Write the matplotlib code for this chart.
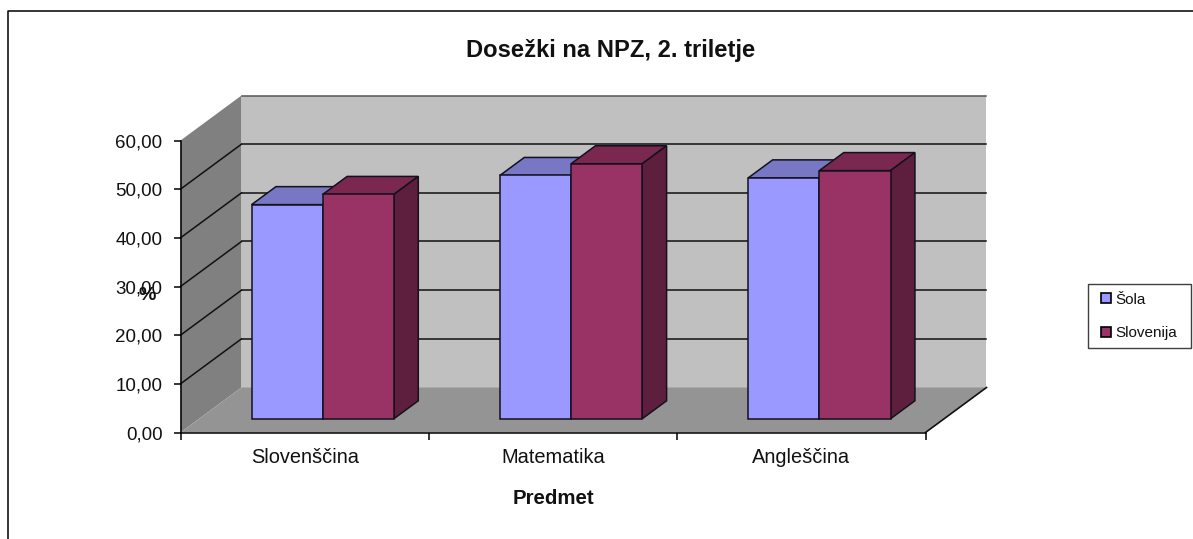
import matplotlib
matplotlib.use("Agg")
import matplotlib.pyplot as plt
from matplotlib.patches import Polygon
from matplotlib.lines import Line2D

categories = ["Slovenščina", "Matematika", "Angleščina"]
sola = [44.0, 50.0, 49.5]
slovenija = [46.1, 52.4, 51.0]
y_ticks = [0, 10, 20, 30, 40, 50, 60]
y_tick_labels = ["0,00", "10,00", "20,00", "30,00", "40,00", "50,00", "60,00"]
title = "Dosežki na NPZ, 2. triletje"
x_title = "Predmet"
y_title = "%"

W, H = 1193, 539
FONT = "Liberation Sans"
plt.rcParams["font.family"] = FONT

fig = plt.figure(figsize=(W / 100, H / 100), dpi=100, facecolor="white")
ax = fig.add_axes([180.5 / W, (H - 432.5) / H, 745 / W, 292 / H])
ax.set_xlim(0, 3)
ax.set_ylim(0, 60)
ax.patch.set_visible(False)

# oblique depth vector of the whole plot box, in data units
DX = 61 / (745 / 3)
DY = 45 / (292 / 60)
BAR_W = 0.2865
BAR_START_X = 0.296
BAR_START_Y = 0.305
BAR_DEPTH = 0.40


def poly(pts, face, edge="none", lw=0.0, z=1):
    ax.add_patch(Polygon(pts, closed=True, facecolor=face, edgecolor=edge,
                         linewidth=lw, clip_on=False, zorder=z, joinstyle="miter"))


top = y_ticks[-1]
# walls and floor
poly([(0, 0), (DX, DY), (DX, top + DY), (0, top)], "#808080", z=1)
poly([(DX, DY), (3 + DX, DY), (3 + DX, top + DY), (DX, top + DY)], "#C0C0C0", z=1)
poly([(0, 0), (3, 0), (3 + DX, DY), (DX, DY)], "#949494", z=1.5)

# gridlines
for v in y_ticks[1:]:
    col = "#111111" if v < top else "#555555"
    ax.plot([DX, 3 + DX], [v + DY, v + DY], color=col, lw=1.1, clip_on=False, zorder=2)
    if v < top:
        ax.plot([0, DX], [v, v + DY], color="#111111", lw=1.1, clip_on=False, zorder=2)
ax.plot([3, 3 + DX], [0, DY], color="#111111", lw=1.2, clip_on=False, zorder=2)


def bar(x_left, value, front, top_col, side_col, z):
    x0 = x_left + BAR_START_X * DX
    x1 = x0 + BAR_W
    y0 = BAR_START_Y * DY
    y1 = value + y0
    ox, oy = BAR_DEPTH * DX, BAR_DEPTH * DY
    edge = "#14101E"
    poly([(x0, y1), (x1, y1), (x1 + ox, y1 + oy), (x0 + ox, y1 + oy)], top_col, edge, 1.1, z)
    poly([(x1, y0), (x1 + ox, y0 + oy), (x1 + ox, y1 + oy), (x1, y1)], side_col, edge, 1.1, z)
    poly([(x0, y0), (x1, y0), (x1, y1), (x0, y1)], front, edge, 1.1, z + 0.1)


for i in range(len(categories)):
    c = i + 0.5
    bar(c - BAR_W, sola[i], "#9999FF", "#7777C4", "#5A5A96", 3 + i)
    bar(c, slovenija[i], "#993366", "#7A2850", "#5E1F3E", 3.4 + i)

# axes
for s in ("top", "right"):
    ax.spines[s].set_visible(False)
for s in ("left", "bottom"):
    ax.spines[s].set_linewidth(1.1)
    ax.spines[s].set_color("black")
    ax.spines[s].set_zorder(2.5)
ax.set_yticks(y_ticks)
ax.set_yticklabels(y_tick_labels, fontsize=13.5, color="#111111")
ax.set_xticks(range(len(categories) + 1))
ax.set_xticklabels([])
ax.set_xticks([i + 0.5 for i in range(len(categories))], minor=True)
ax.set_xticklabels(categories, minor=True, fontsize=14.4, color="#111111")
ax.tick_params(axis="y", length=5, width=1.1, pad=8)
ax.tick_params(axis="x", which="major", length=5, width=1.1)
ax.tick_params(axis="x", which="minor", length=0, pad=11)

# titles
fig.text(611 / W, 1 - 50.5 / H, title, ha="center", va="center", fontsize=17.1, fontweight="bold", color="#111111")
fig.text(553 / W, 1 - 498.5 / H, x_title, ha="center", va="center", fontsize=14.7, fontweight="bold", color="#111111")
fig.text(147 / W, 1 - 295 / H, y_title, ha="center", va="center", fontsize=14, fontweight="bold", color="#111111")

# legend
handles = [Line2D([], [], linestyle="none", marker="s", markersize=6.5, markerfacecolor="#9999FF",
                  markeredgecolor="black", markeredgewidth=1.2, label="Šola"),
           Line2D([], [], linestyle="none", marker="s", markersize=6.5, markerfacecolor="#993366",
                  markeredgecolor="black", markeredgewidth=1.2, label="Slovenija")]
leg = fig.legend(handles=handles, loc="center left",
                 bbox_to_anchor=(1087.5 / W, (H - 348.5) / H, 103 / W, 64.5 / H), mode="expand",
                 fontsize=11, frameon=True, fancybox=False, edgecolor="#404040", framealpha=1,
                 handlelength=1.3, handletextpad=-0.05, labelspacing=1.27,
                 borderpad=0.55, borderaxespad=0, labelcolor="#111111")
leg.get_frame().set_linewidth(1.0)

# chart-area frame (top and left edges visible in the reference)
fig.add_artist(Line2D([8.0 / W, 8.0 / W, 1], [0, 1 - 11.0 / H, 1 - 11.0 / H],
                      transform=fig.transFigure, color="black", lw=1.1))

fig.savefig("out.png", dpi=100)
